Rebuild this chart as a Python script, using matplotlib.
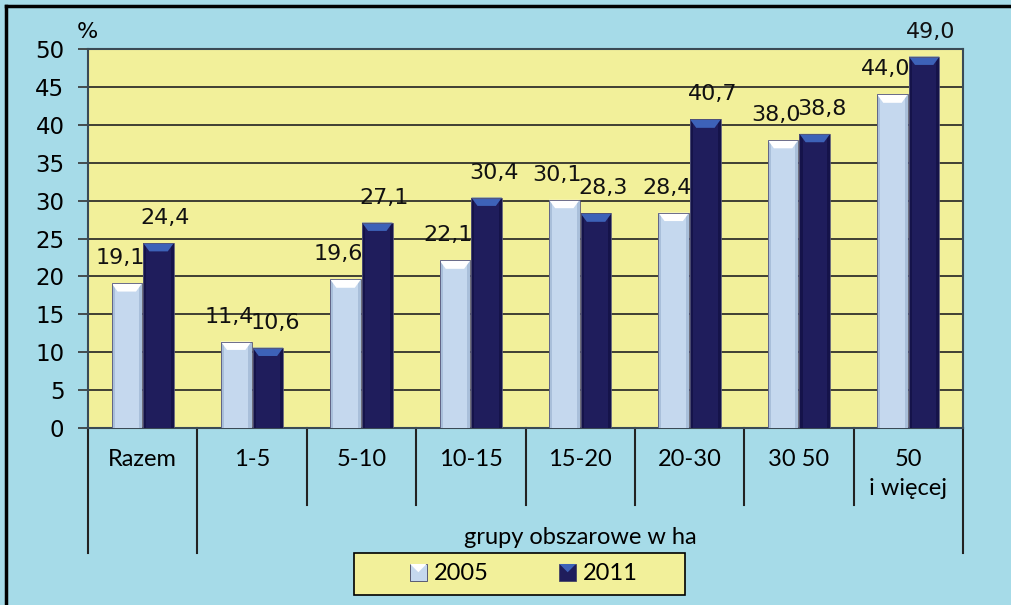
import matplotlib
matplotlib.use("Agg")
import matplotlib.pyplot as plt
from matplotlib.patches import Polygon, Rectangle, Patch
from matplotlib.legend_handler import HandlerPatch
from matplotlib.lines import Line2D
import matplotlib.transforms as mtransforms
import numpy as np

# ---- data ----
categories = ["Razem", "1-5", "5-10", "10-15", "15-20", "20-30", "30 50", "50\ni więcej"]
values_2005 = [19.1, 11.4, 19.6, 22.1, 30.1, 28.4, 38.0, 44.0]
values_2011 = [24.4, 10.6, 27.1, 30.4, 28.3, 40.7, 38.8, 49.0]
series_labels = ["2005", "2011"]
y_ticks = [0, 5, 10, 15, 20, 25, 30, 35, 40, 45, 50]
group_title = "grupy obszarowe w ha"

# ---- style ----
BG = "#a6dbe8"
PLOT_BG = "#f2f09a"
C05 = {"face": "#c5d8ee", "top": "#ffffff", "side": "#a9bfda"}
C11 = {"face": "#1f1d5c", "top": "#3d62b8", "side": "#15134a"}
NUM_FONT = "DejaVu Sans"
CAT_FONT = "Lato"

W, H = 1011, 605
fig = plt.figure(figsize=(W / 100, H / 100), dpi=100, facecolor=BG)
ax = fig.add_axes([88 / W, 1 - 428 / H, (963 - 88) / W, (428 - 49) / H])
ax.set_facecolor(PLOT_BG)

n = len(categories)
x = np.arange(n)
bw = 0.28
gap = 0.005

def beveled_bars(xpos, vals, colors, label):
    bars = ax.bar(xpos, vals, width=bw, color=colors["face"], edgecolor="none",
                  zorder=3, label=label)
    for b in bars:
        x0, w, h = b.get_x(), b.get_width(), b.get_height()
        dx = w * 0.2
        dy = 1.1
        # side shading
        ax.add_patch(Polygon([(x0, 0), (x0 + dx * 0.5, 0), (x0 + dx * 0.5, h), (x0, h)],
                             closed=True, color=colors["side"], zorder=3.5, lw=0))
        ax.add_patch(Polygon([(x0 + w - dx * 0.5, 0), (x0 + w, 0), (x0 + w, h), (x0 + w - dx * 0.5, h)],
                             closed=True, color=colors["side"], zorder=3.5, lw=0))
        # top bevel
        ax.add_patch(Polygon([(x0, h), (x0 + w, h), (x0 + w - dx, h - dy), (x0 + dx, h - dy)],
                             closed=True, color=colors["top"], zorder=4, lw=0))
        # outline
        ax.add_patch(Rectangle((x0, 0), w, h, fill=False, edgecolor="#555577", lw=0.6, zorder=4.5))
    return bars

b05 = beveled_bars(x - bw / 2 - gap, values_2005, C05, series_labels[0])
b11 = beveled_bars(x + bw / 2 + gap, values_2011, C11, series_labels[1])

# data labels
for bars, vals, dxp in ((b05, values_2005, -7), (b11, values_2011, 7)):
    for b, v in zip(bars, vals):
        ax.annotate(f"{v:.1f}".replace(".", ","),
                    (b.get_x() + b.get_width() / 2, b.get_height()),
                    xytext=(dxp, 25), textcoords="offset pixels",
                    ha="center", va="center", fontsize=16, family=NUM_FONT,
                    color="#111111", zorder=6)

ax.set_xlim(-0.5, n - 0.5)
ax.set_ylim(0, 50)
ax.set_yticks(y_ticks)
ax.set_yticklabels([str(t) for t in y_ticks], family=NUM_FONT, fontsize=16.5)
ax.tick_params(axis="y", length=7, width=1.2, color="#333333", pad=10)
ax.yaxis.grid(True, color="#222222", lw=1.2, zorder=1)
ax.set_axisbelow(True)
for s in ax.spines.values():
    s.set_color("#3a4a55")
    s.set_linewidth(1.5)

ax.set_xticks(x)
ax.set_xticklabels(categories, family=CAT_FONT, fontsize=17)
ax.tick_params(axis="x", length=0, pad=15)
for t in ax.get_xticklabels():
    t.set_linespacing(1.5)

# category separators
trans = mtransforms.blended_transform_factory(ax.transData, ax.transAxes)
for i in range(n + 1):
    xb = i - 0.5
    low = -0.33 if i in (0, 1, n) else -0.203
    ax.add_line(Line2D([xb, xb], [0, low], transform=trans, color="#222222",
                       lw=1.5, clip_on=False))

# group title over categories 2..n
ax.text((1 - 0.5 + n - 0.5) / 2, (428 - 538) / (428 - 49), group_title,
        transform=trans, ha="center", va="center", family=CAT_FONT, fontsize=17)

# % label
fig.text(87 / W, 1 - 32 / H, "%", ha="center", va="center", family=NUM_FONT, fontsize=16)

# legend box
fig.patches.append(Rectangle((354 / W, 1 - 595 / H), (685 - 354) / W, (595 - 553) / H,
                             transform=fig.transFigure, facecolor=PLOT_BG,
                             edgecolor="black", lw=1.2, zorder=1))

class BevelHandler(HandlerPatch):
    def create_artists(self, legend, orig_handle, xdescent, ydescent, width, height, fontsize, trans):
        fc = orig_handle.get_facecolor()
        tc = orig_handle.get_edgecolor()
        s = min(width, height)
        x0 = -xdescent + (width - s) / 2
        y0 = -ydescent + (height - s) / 2
        sq = Rectangle((x0, y0), s, s, facecolor=fc, edgecolor="#444466", lw=0.6, transform=trans)
        tri = Polygon([(x0, y0 + s), (x0 + s, y0 + s), (x0 + s / 2, y0 + s * 0.5)],
                      closed=True, facecolor=tc, edgecolor="none", transform=trans)
        return [sq, tri]

h05 = Patch(facecolor=C05["face"], edgecolor=C05["top"])
h11 = Patch(facecolor=C11["face"], edgecolor=C11["top"])
leg = fig.legend([h05, h11], series_labels, loc="center",
                 bbox_to_anchor=(524 / W, 1 - 574 / H), ncol=2, frameon=False,
                 prop={"family": CAT_FONT, "size": 17},
                 handler_map={Patch: BevelHandler()},
                 handlelength=0.7, handleheight=0.7, handletextpad=0.3,
                 columnspacing=3.0)

# outer border (left & top)
fig.add_artist(Line2D([6 / W, 6 / W], [0, 1 - 6 / H], transform=fig.transFigure, color="black", lw=2.5))
fig.add_artist(Line2D([6 / W, 1], [1 - 6 / H, 1 - 6 / H], transform=fig.transFigure, color="black", lw=2.5))

fig.savefig("out.png", dpi=100, facecolor=BG)
